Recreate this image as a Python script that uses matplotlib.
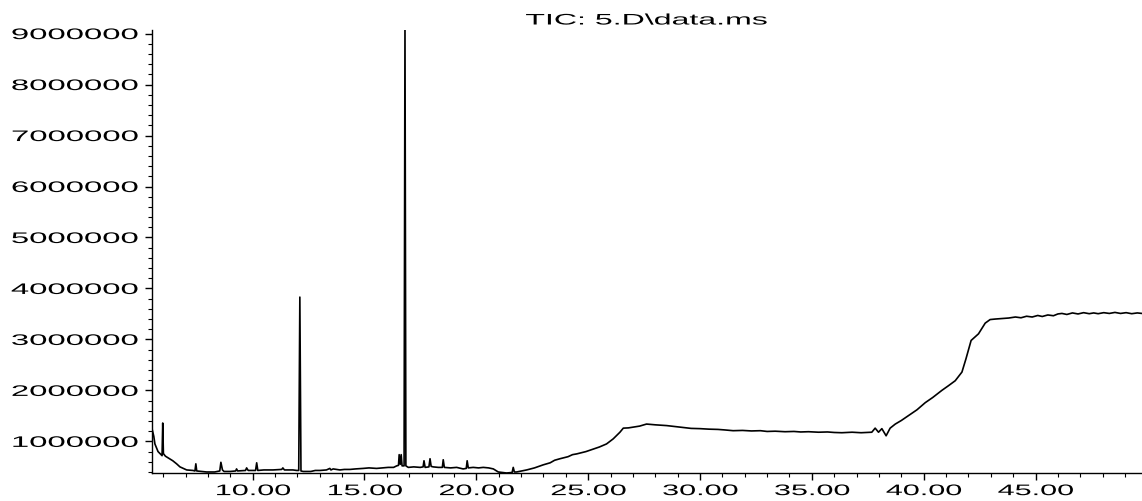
import matplotlib
matplotlib.use("Agg")
import matplotlib.pyplot as plt
from matplotlib.patheffects import AbstractPathEffect
from matplotlib.transforms import Affine2D
from matplotlib.ticker import MultipleLocator


# retention time (min) and total ion current
rt_min = [
    5.50, 5.58, 5.63, 5.77, 5.90, 5.95, 5.98, 6.01, 6.10, 6.21, 6.43, 6.60, 6.75,
    7.05, 7.33, 7.42, 7.46, 7.50, 7.94, 8.30, 8.53, 8.58, 8.65, 8.72, 9.00, 9.24,
    9.28, 9.33, 9.68, 9.73, 9.80, 10.13, 10.18, 10.23, 10.50, 10.91, 11.30, 11.35,
    11.42, 11.80, 11.97, 12.06, 12.11, 12.16, 12.26, 12.60, 12.80, 13.01, 13.30,
    13.45, 13.50, 13.60, 13.90, 14.10, 14.35, 14.60, 14.94, 15.20, 15.54, 15.80,
    16.06, 16.30, 16.44, 16.52, 16.55, 16.60, 16.64, 16.68, 16.77, 16.81, 16.85,
    16.96, 17.20, 17.49, 17.62, 17.66, 17.71, 17.88, 17.93, 17.98, 18.07, 18.30,
    18.48, 18.52, 18.57, 18.85, 19.12, 19.41, 19.55, 19.59, 19.64, 19.86, 20.10,
    20.31, 20.55, 20.76, 20.98, 21.35, 21.60, 21.65, 21.70, 21.80, 22.25, 22.60,
    22.99, 23.30, 23.50, 23.74, 24.10, 24.30, 24.49, 24.90, 25.23, 25.50, 25.82,
    26.12, 26.42, 26.57, 26.80, 27.01, 27.30, 27.61, 28.00, 28.51, 28.90, 29.25,
    29.60, 30.00, 30.40, 30.80, 31.10, 31.48, 31.90, 32.30, 32.70, 33.00, 33.36,
    33.80, 34.20, 34.50, 34.85, 35.30, 35.70, 36.00, 36.34, 36.80, 37.20, 37.68,
    37.83, 37.98, 38.13, 38.32, 38.50, 38.73, 39.00, 39.33, 39.70, 40.07, 40.40,
    40.81, 41.10, 41.41, 41.71, 41.89, 42.12, 42.45, 42.75, 42.97, 43.20, 43.50,
    43.80, 44.10, 44.35, 44.60, 44.85, 45.10, 45.30, 45.55, 45.80, 46.00, 46.18,
    46.40, 46.65, 46.90, 47.15, 47.40, 47.60, 47.80, 48.05, 48.30, 48.55, 48.80,
    49.05, 49.30, 49.55, 49.76,
]
tic_abund = [
    1.25e6, 1.10e6, 0.95e6, 0.80e6, 0.74e6, 0.72e6, 1.36e6, 0.76e6, 0.71e6, 0.68e6,
    0.62e6, 0.56e6, 0.50e6, 0.44e6, 0.43e6, 0.42e6, 0.56e6, 0.42e6, 0.40e6, 0.40e6,
    0.42e6, 0.59e6, 0.44e6, 0.41e6, 0.41e6, 0.42e6, 0.46e6, 0.42e6, 0.43e6, 0.48e6,
    0.43e6, 0.43e6, 0.58e6, 0.43e6, 0.44e6, 0.44e6, 0.45e6, 0.48e6, 0.44e6, 0.44e6,
    0.43e6, 0.43e6, 3.83e6, 0.42e6, 0.41e6, 0.41e6, 0.43e6, 0.43e6, 0.44e6, 0.47e6,
    0.44e6, 0.46e6, 0.44e6, 0.45e6, 0.45e6, 0.46e6, 0.47e6, 0.48e6, 0.47e6, 0.48e6,
    0.49e6, 0.49e6, 0.52e6, 0.53e6, 0.74e6, 0.55e6, 0.74e6, 0.52e6, 0.52e6, 9.20e6,
    0.52e6, 0.49e6, 0.50e6, 0.49e6, 0.50e6, 0.62e6, 0.49e6, 0.50e6, 0.66e6, 0.51e6,
    0.50e6, 0.49e6, 0.49e6, 0.64e6, 0.49e6, 0.48e6, 0.49e6, 0.46e6, 0.47e6, 0.62e6,
    0.48e6, 0.49e6, 0.48e6, 0.49e6, 0.48e6, 0.46e6, 0.40e6, 0.38e6, 0.39e6, 0.49e6,
    0.40e6, 0.40e6, 0.44e6, 0.48e6, 0.54e6, 0.58e6, 0.63e6, 0.66e6, 0.70e6, 0.74e6,
    0.755e6, 0.80e6, 0.85e6, 0.89e6, 0.95e6, 1.05e6, 1.18e6, 1.26e6, 1.265e6, 1.28e6,
    1.30e6, 1.34e6, 1.325e6, 1.31e6, 1.29e6, 1.27e6, 1.255e6, 1.25e6, 1.24e6, 1.235e6,
    1.225e6, 1.21e6, 1.215e6, 1.205e6, 1.21e6, 1.195e6, 1.20e6, 1.19e6, 1.195e6,
    1.185e6, 1.19e6, 1.18e6, 1.185e6, 1.175e6, 1.17e6, 1.18e6, 1.17e6, 1.18e6,
    1.26e6, 1.18e6, 1.25e6, 1.11e6, 1.26e6, 1.34e6, 1.41e6, 1.51e6, 1.62e6, 1.76e6,
    1.86e6, 2.00e6, 2.09e6, 2.19e6, 2.36e6, 2.62e6, 2.98e6, 3.11e6, 3.32e6, 3.39e6,
    3.40e6, 3.41e6, 3.42e6, 3.44e6, 3.425e6, 3.455e6, 3.44e6, 3.47e6, 3.45e6,
    3.48e6, 3.465e6, 3.50e6, 3.51e6, 3.49e6, 3.52e6, 3.50e6, 3.525e6, 3.505e6,
    3.52e6, 3.505e6, 3.525e6, 3.51e6, 3.53e6, 3.51e6, 3.525e6, 3.505e6, 3.52e6,
    3.51e6,
]

x_ticks = [10, 15, 20, 25, 30, 35, 40, 45]
y_ticks = [1000000, 2000000, 3000000, 4000000, 5000000,
           6000000, 7000000, 8000000, 9000000]
title = "TIC: 5.D\\data.ms"


class Widen(AbstractPathEffect):
    """Stretch glyphs sideways about the left, centre or right of the ink."""

    def __init__(self, sx=2.1, anchor="center"):
        super().__init__()
        self.sx = sx
        self.anchor = anchor

    def draw_path(self, renderer, gc, tpath, affine, rgbFace=None):
        xs = tpath.vertices[:, 0]
        if len(xs):
            x0 = {"left": xs.min(), "right": xs.max(),
                  "center": 0.5 * (xs.min() + xs.max())}[self.anchor]
        else:
            x0 = 0
        stretch = Affine2D().translate(-x0, 0).scale(self.sx, 1).translate(x0, 0)
        renderer.draw_path(gc, tpath, stretch + affine, rgbFace)


plt.rcParams['font.family'] = 'Liberation Sans'
plt.rcParams['font.size'] = 11

fig = plt.figure(figsize=(11.42, 5.02), dpi=100)
ax = fig.add_axes([152 / 1142, 1 - 474 / 502, 1 - 152 / 1142, (474 - 31) / 502])

ax.plot(rt_min, tic_abund, color='black', lw=1.2)

ax.set_xlim(5.5, 49.76)
ax.set_ylim(380000, 9070000)

ax.spines['top'].set_visible(False)
ax.spines['right'].set_visible(False)
ax.spines['left'].set_linewidth(1.0)
ax.spines['bottom'].set_linewidth(1.0)

ax.set_xticks(x_ticks, [f"{t:.2f}" for t in x_ticks])
ax.set_yticks(y_ticks, [str(v) for v in y_ticks])
ax.xaxis.set_minor_locator(MultipleLocator(1))
ax.yaxis.set_minor_locator(MultipleLocator(200000))
ax.tick_params(which='major', direction='out', length=5, width=1, pad=3)
ax.tick_params(which='minor', direction='out', length=3, width=0.8)
ax.tick_params(axis='y', which='major', pad=5)

for lbl in ax.get_xticklabels():
    lbl.set_path_effects([Widen(2.0, "center")])
for lbl in ax.get_yticklabels():
    lbl.set_path_effects([Widen(2.15, "right")])

fig.text(646 / 1142, 1 - 21.5 / 502, title, ha='center', va='center',
         path_effects=[Widen(2.1, "center")])

fig.savefig("out.png", dpi=100)
